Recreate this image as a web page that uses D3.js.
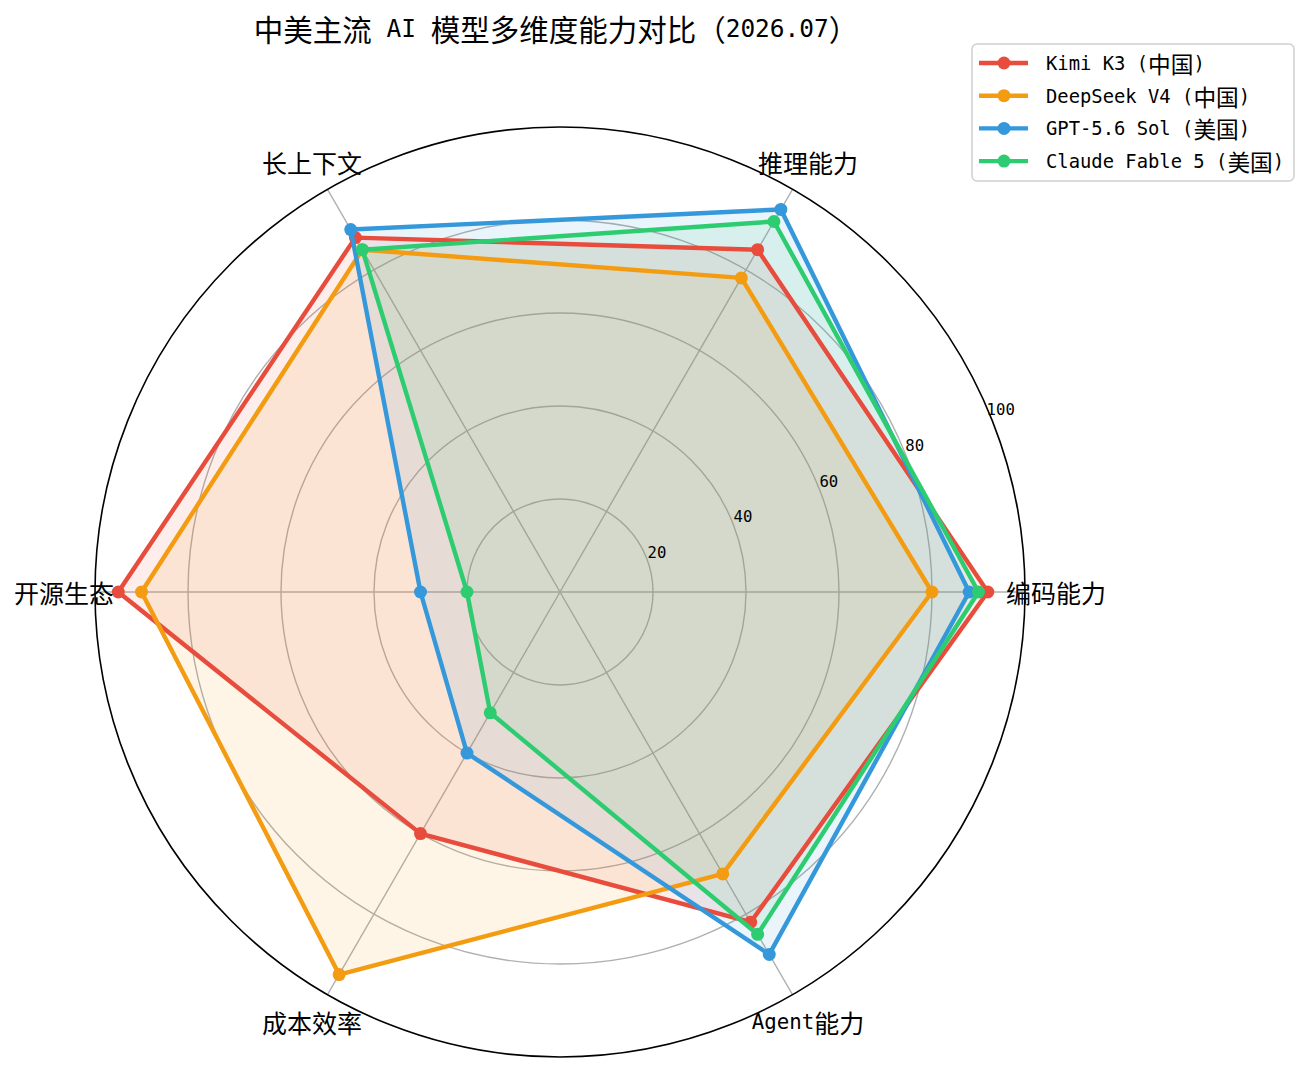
<!DOCTYPE html>
<html>
<head>
<meta charset="utf-8">
<script src="https://cdn.jsdelivr.net/npm/d3@7"></script>
<style>
  body { margin: 0; background: #fff; }
</style>
</head>
<body>
<div id="chart"></div>
<script>
// chart data
const categories = ["编码能力", "推理能力", "长上下文", "开源生态", "成本效率", "Agent能力"];
const kimiK3 = [92, 85, 88, 95, 60, 82];
const deepseekV4 = [80, 78, 85, 90, 95, 70];
const gpt56 = [88, 95, 90, 30, 40, 90];
const claudeFable5 = [90, 92, 85, 20, 30, 85];
const seriesNames = ["Kimi K3 (中国)", "DeepSeek V4 (中国)", "GPT-5.6 Sol (美国)", "Claude Fable 5 (美国)"];
const rTicks = [20, 40, 60, 80, 100];
const titleText = "中美主流 AI 模型多维度能力对比（2026.07）";

const colors = ["#e74c3c", "#f39c12", "#3498db", "#2ecc71"];
const series = [kimiK3, deepseekV4, gpt56, claudeFable5].map((v, i) => ({ name: seriesNames[i], values: v, color: colors[i] }));

const W = 1309, H = 1073;
const cx = 560, cy = 592, R = 465;

const svg = d3.select("#chart")
  .append("svg")
  .attr("width", W)
  .attr("height", H);

// SimHei-like text: half-width mono latin, full-width CJK
function addText(sel, str, size, latinScale) {
  const ls = latinScale || 0.83;
  const runs = str.match(/[\u2E80-\uFFEF]+|[^\u2E80-\uFFEF]+/g) || [];
  runs.forEach(run => {
    const cjk = /[\u2E80-\uFFEF]/.test(run);
    sel.append("tspan")
      .style("font-family", cjk ? "'Noto Sans CJK SC'" : "'DejaVu Sans Mono'")
      .style("font-size", (cjk ? size : size * ls) + "px")
      .attr("xml:space", "preserve")
      .text(run);
  });
  return sel;
}

const r = d3.scaleLinear().domain([0, 100]).range([0, R]);
const n = categories.length;
const theta = i => i * 2 * Math.PI / n; // counter-clockwise from east

const g = svg.append("g").attr("transform", `translate(${cx},${cy})`);

// grid circles
g.selectAll(".gridc")
  .data(rTicks.filter(t => t < 100))
  .enter().append("circle")
  .attr("r", d => r(d))
  .attr("fill", "none")
  .attr("stroke", "#b0b0b0")
  .attr("stroke-width", 1.4);

// radial lines
g.selectAll(".spoke")
  .data(categories)
  .enter().append("line")
  .attr("x1", 0).attr("y1", 0)
  .attr("x2", (d, i) => r(100) * Math.cos(theta(i)))
  .attr("y2", (d, i) => -r(100) * Math.sin(theta(i)))
  .attr("stroke", "#b0b0b0")
  .attr("stroke-width", 1.4);

const radial = d3.lineRadial()
  .angle((d, i) => Math.PI / 2 - theta(i))
  .radius(d => r(d))
  .curve(d3.curveLinearClosed);

// fills first
g.selectAll(".area")
  .data(series)
  .enter().append("path")
  .attr("d", d => radial(d.values))
  .attr("fill", d => d.color)
  .attr("fill-opacity", 0.1)
  .attr("stroke", "none");

// lines and markers
series.forEach(s => {
  g.append("path")
    .attr("d", radial(s.values))
    .attr("fill", "none")
    .attr("stroke", s.color)
    .attr("stroke-width", 4.4)
    .attr("stroke-linejoin", "round");
  g.selectAll(null)
    .data(s.values)
    .enter().append("circle")
    .attr("cx", (d, i) => r(d) * Math.cos(theta(i)))
    .attr("cy", (d, i) => -r(d) * Math.sin(theta(i)))
    .attr("r", 6.5)
    .attr("fill", s.color);
});

// outer spine
g.append("circle")
  .attr("r", r(100))
  .attr("fill", "none")
  .attr("stroke", "#000")
  .attr("stroke-width", 1.6);

// r tick labels at 22.5 deg
const la = 22.5 * Math.PI / 180;
rTicks.forEach(t => {
  const rr = r(t) + 12;
  addText(g.append("text")
    .attr("x", rr * Math.cos(la))
    .attr("y", -rr * Math.sin(la))
    .attr("text-anchor", "middle")
    .attr("dominant-baseline", "central")
    .attr("fill", "#000"), String(t), 17, 0.92);
});

// category labels
categories.forEach((c, i) => {
  const rr = r(100) + 31;
  addText(g.append("text")
    .attr("x", rr * Math.cos(theta(i)))
    .attr("y", -rr * Math.sin(theta(i)))
    .attr("text-anchor", "middle")
    .attr("dominant-baseline", "central")
    .attr("fill", "#000"), c, 25);
});

// title
addText(svg.append("text")
  .attr("x", 556)
  .attr("y", 28)
  .attr("text-anchor", "middle")
  .attr("dominant-baseline", "central")
  .attr("fill", "#000"), titleText, 29.5);

// legend
const lg = svg.append("g").attr("transform", "translate(972,44)");
lg.append("rect")
  .attr("width", 322).attr("height", 137)
  .attr("rx", 5)
  .attr("fill", "#fff").attr("fill-opacity", 0.8)
  .attr("stroke", "#d0d0d0").attr("stroke-width", 1.5);
series.forEach((s, i) => {
  const y = 19 + i * 32.7;
  lg.append("line")
    .attr("x1", 7).attr("x2", 56)
    .attr("y1", y).attr("y2", y)
    .attr("stroke", s.color).attr("stroke-width", 4.4);
  lg.append("circle")
    .attr("cx", 32).attr("cy", y).attr("r", 6.5)
    .attr("fill", s.color);
  addText(lg.append("text")
    .attr("x", 74).attr("y", y)
    .attr("dominant-baseline", "central")
    .attr("fill", "#000"), s.name, 22.7);
});
</script>
</body>
</html>
